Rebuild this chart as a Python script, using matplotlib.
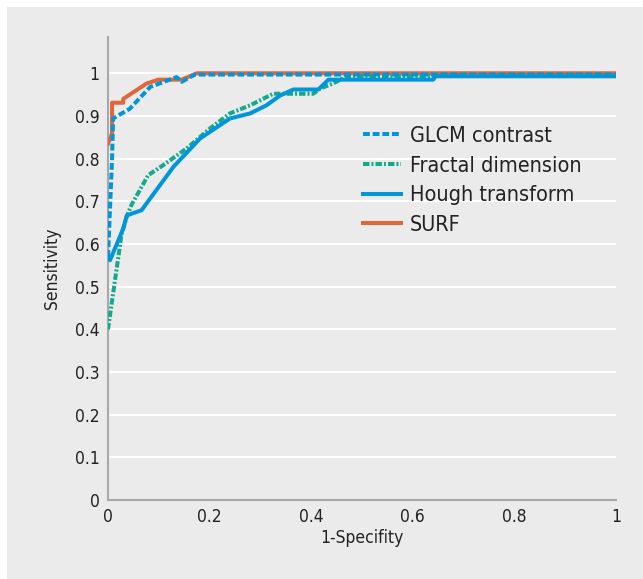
import matplotlib.pyplot as plt
from matplotlib.patches import Rectangle

plt.rcParams['font.family'] = ['DejaVu Sans']
plt.rcParams['font.stretch'] = 'condensed'

# ROC curves (1-specificity, sensitivity)
glcm_x = [0.0, 0.008, 0.01, 0.043, 0.083, 0.135, 0.145, 0.171, 1.0]
glcm_y = [0.57, 0.80, 0.894, 0.917, 0.968, 0.991, 0.98, 0.997, 0.997]

fractal_x = [0.0, 0.027, 0.037, 0.046, 0.079, 0.109, 0.155, 0.2, 0.24, 0.28, 0.325,
             0.404, 0.417, 0.443, 0.47, 1.0]
fractal_y = [0.40, 0.625, 0.664, 0.691, 0.761, 0.785, 0.824, 0.87, 0.906, 0.925, 0.952,
             0.952, 0.964, 0.976, 0.993, 0.995]

hough_x = [0.0, 0.004, 0.03, 0.037, 0.066, 0.129, 0.181, 0.24, 0.28, 0.312, 0.339,
           0.365, 0.414, 0.434, 0.64, 0.645, 1.0]
hough_y = [0.57, 0.562, 0.636, 0.667, 0.679, 0.781, 0.847, 0.894, 0.906, 0.925, 0.948,
           0.962, 0.962, 0.985, 0.985, 0.993, 0.993]

surf_x = [0.0, 0.008, 0.008, 0.03, 0.03, 0.076, 0.099, 0.145, 0.175, 1.0]
surf_y = [0.835, 0.859, 0.931, 0.931, 0.94, 0.976, 0.985, 0.985, 1.0, 1.0]

BG = '#EAEBEA'
BLUE = '#0096D8'
GREEN = '#14A98F'
ORANGE = '#E0673C'

fig = plt.figure(figsize=(6.43, 5.79), dpi=100)
fig.patch.set_facecolor('white')
fig.add_artist(Rectangle((7 / 643, 0), 1, 1 - 7 / 579, transform=fig.transFigure,
                         facecolor=BG, edgecolor='none', zorder=-10))

ax = fig.add_axes([108 / 643, 79 / 579, 508 / 643, 463 / 579])
ax.set_facecolor(BG)

ax.plot(surf_x, surf_y, color=ORANGE, lw=2.9, label='SURF', zorder=3)
ax.plot(glcm_x, glcm_y, color=BLUE, lw=2.9, ls=(0, (1.7, 0.7)), label='GLCM contrast', zorder=5)
ax.plot(fractal_x, fractal_y, color=GREEN, lw=2.9, ls=(0, (1.6, 0.5, 0.5, 0.5)),
        label='Fractal dimension', zorder=4)
ax.plot(hough_x, hough_y, color=BLUE, lw=2.9, label='Hough transform', zorder=4)

ax.set_xlim(0, 1)
ax.set_ylim(0, 1.085)
ax.set_xticks([0, 0.2, 0.4, 0.6, 0.8, 1])
ax.set_xticklabels(['0', '0.2', '0.4', '0.6', '0.8', '1'])
yt = [i / 10 for i in range(11)]
ax.set_yticks(yt)
ax.set_yticklabels(['0'] + ['%.1f' % v for v in yt[1:-1]] + ['1'])
ax.tick_params(length=0, labelsize=12.5, colors='#222222', pad=6)
ax.grid(axis='y', color='white', lw=1.5)
ax.set_axisbelow(True)
for s in ['top', 'right']:
    ax.spines[s].set_visible(False)
for s in ['left', 'bottom']:
    ax.spines[s].set_color('#A8A8A8')
    ax.spines[s].set_linewidth(1.5)

ax.set_xlabel('1-Specifity', fontsize=12.5, color='#222222', labelpad=2)
ax.set_ylabel('Sensitivity', fontsize=12.5, color='#222222', labelpad=10)

h, l = ax.get_legend_handles_labels()
order = [1, 2, 3, 0]
ax.legend([h[i] for i in order], [l[i] for i in order], loc='upper left',
          bbox_to_anchor=(0.463, 0.85), frameon=False, fontsize=15.5,
          handlelength=1.8, handletextpad=0.4, labelspacing=0.45,
          labelcolor='#222222')

fig.savefig('out.png', dpi=100)
